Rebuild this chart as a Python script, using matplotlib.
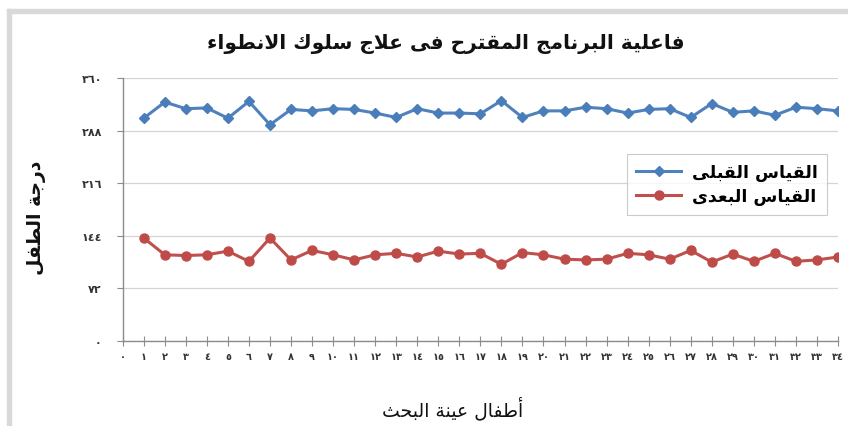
import matplotlib
matplotlib.use("Agg")
import matplotlib.pyplot as plt
from matplotlib.patches import Rectangle

# ---- data -------------------------------------------------------------
children = list(range(1, 35))
pre_scores = [305, 327, 318, 319, 305, 328, 296, 317, 315, 318, 317, 312,
              306, 318, 312, 312, 311, 329, 306, 315, 315, 320, 318, 312,
              317, 318, 306, 325, 313, 315, 309, 320, 318, 315]
post_scores = [141, 118, 117, 118, 123, 109, 141, 111, 124, 118, 111, 118,
               120, 115, 123, 119, 120, 105, 121, 118, 112, 111, 112, 120,
               118, 112, 124, 108, 119, 109, 120, 109, 111, 115]
y_ticks = [0, 72, 144, 216, 288, 360]
x_ticks = list(range(0, 35))

title_text = "فاعلية البرنامج المقترح فى علاج سلوك الانطواء"
ylabel_text = "درجة الطفل"
xlabel_text = "أطفال عينة البحث"
series_names = ["القياس القبلى", "القياس البعدى"]

# ---- minimal Arabic shaping (contextual forms + right-to-left order) ----
_FORMS = {
    "\u0621": ("\uFE80", None, None, None),
    "\u0623": ("\uFE83", "\uFE84", None, None),
    "\u0627": ("\uFE8D", "\uFE8E", None, None),
    "\u0628": ("\uFE8F", "\uFE90", "\uFE91", "\uFE92"),
    "\u0629": ("\uFE93", "\uFE94", None, None),
    "\u062A": ("\uFE95", "\uFE96", "\uFE97", "\uFE98"),
    "\u062B": ("\uFE99", "\uFE9A", "\uFE9B", "\uFE9C"),
    "\u062C": ("\uFE9D", "\uFE9E", "\uFE9F", "\uFEA0"),
    "\u062D": ("\uFEA1", "\uFEA2", "\uFEA3", "\uFEA4"),
    "\u062F": ("\uFEA9", "\uFEAA", None, None),
    "\u0631": ("\uFEAD", "\uFEAE", None, None),
    "\u0633": ("\uFEB1", "\uFEB2", "\uFEB3", "\uFEB4"),
    "\u0637": ("\uFEC1", "\uFEC2", "\uFEC3", "\uFEC4"),
    "\u0639": ("\uFEC9", "\uFECA", "\uFECB", "\uFECC"),
    "\u0641": ("\uFED1", "\uFED2", "\uFED3", "\uFED4"),
    "\u0642": ("\uFED5", "\uFED6", "\uFED7", "\uFED8"),
    "\u0643": ("\uFED9", "\uFEDA", "\uFEDB", "\uFEDC"),
    "\u0644": ("\uFEDD", "\uFEDE", "\uFEDF", "\uFEE0"),
    "\u0645": ("\uFEE1", "\uFEE2", "\uFEE3", "\uFEE4"),
    "\u0646": ("\uFEE5", "\uFEE6", "\uFEE7", "\uFEE8"),
    "\u0648": ("\uFEED", "\uFEEE", None, None),
    "\u0649": ("\uFEEF", "\uFEF0", None, None),
    "\u064A": ("\uFEF1", "\uFEF2", "\uFEF3", "\uFEF4"),
    "\u0644\u0627": ("\uFEFB", "\uFEFC", None, None),
    "\u0644\u0623": ("\uFEF7", "\uFEF8", None, None),
}


def _dual(u):
    return u in _FORMS and _FORMS[u][2] is not None


def _joins_prev(u):
    return u in _FORMS and _FORMS[u][1] is not None


def ar(text):
    units, i = [], 0
    while i < len(text):
        pair = text[i:i + 2]
        if pair in _FORMS:
            units.append(pair)
            i += 2
        else:
            units.append(text[i])
            i += 1
    out = []
    for k, u in enumerate(units):
        if u not in _FORMS:
            out.append(u)
            continue
        prev = k > 0 and _dual(units[k - 1]) and _joins_prev(u)
        nxt = k < len(units) - 1 and _dual(u) and _joins_prev(units[k + 1])
        f = _FORMS[u]
        if prev and nxt:
            out.append(f[3])
        elif prev:
            out.append(f[1])
        elif nxt:
            out.append(f[2])
        else:
            out.append(f[0])
    return "".join(out)[::-1]


_DIGITS = str.maketrans("0123456789", "٠١٢٣٤٥٦٧٨٩")


def ar_num(n):
    return str(n).translate(_DIGITS)


# ---- figure -------------------------------------------------------------
plt.rcParams["font.family"] = ["DejaVu Sans"]
W, H = 848, 427
fig = plt.figure(figsize=(W / 100, H / 100), dpi=100)

# light chart frame (top and left edges)
fig.patches.append(Rectangle((7 / W, 0), 4 / W, 1 - 10 / H, transform=fig.transFigure,
                             color="#d9d9d9", zorder=0))
fig.patches.append(Rectangle((7 / W, 1 - 14 / H), 1 - 7 / W, 4 / H, transform=fig.transFigure,
                             color="#d9d9d9", zorder=0))

left, right, top, bottom = 122.7, 838, 79, 342
ax = fig.add_axes([left / W, 1 - bottom / H, (right - left) / W, (bottom - top) / H])

blue_line, blue_mark = "#4F81BD", "#4A7EBB"
red_line, red_mark = "#C0504D", "#BE4B48"

ax.plot(children, pre_scores, color=blue_line, lw=2.2, marker="D", ms=5,
        mfc=blue_mark, mec=blue_mark, label=ar(series_names[0]), zorder=3)
ax.plot(children, post_scores, color=red_line, lw=2.2, marker="o", ms=6.5,
        mfc=red_mark, mec=red_mark, label=ar(series_names[1]), zorder=3)

ax.set_xlim(0, 34)
ax.set_ylim(0, 360)
ax.set_yticks(y_ticks)
ax.set_yticklabels([ar_num(v) for v in y_ticks], fontsize=8, fontweight="bold", color="#333333")
ax.set_xticks(x_ticks)
ax.set_xticklabels([ar_num(v) for v in x_ticks], fontsize=7, fontweight="bold", color="#333333")

ax.grid(axis="y", color="#d4d4d4", lw=0.9)
ax.set_axisbelow(True)
for s in ("top", "right"):
    ax.spines[s].set_visible(False)
for s in ("left", "bottom"):
    ax.spines[s].set_color("#8c8c8c")
    ax.spines[s].set_linewidth(1.0)
ax.tick_params(axis="y", direction="out", length=4, color="#8c8c8c", pad=11)
ax.tick_params(axis="x", direction="inout", length=7, color="#8c8c8c", pad=4)

fig.text(446 / W, 1 - 44 / H, ar(title_text), ha="center", va="center",
         fontsize=14.5, fontweight="bold", color="#111111")
fig.text(36 / W, 1 - 218 / H, ar(ylabel_text), ha="center", va="center",
         rotation=90, fontsize=13.5, fontweight="bold", color="#111111")
fig.text(453 / W, 1 - 409 / H, ar(xlabel_text), ha="center", va="center",
         fontsize=13.5, color="#111111")

leg = ax.legend(loc="upper right", bbox_to_anchor=(836 / W, 1 - 146 / H),
                bbox_transform=fig.transFigure, frameon=True, fancybox=False,
                prop={"size": 12.5, "weight": "bold"}, handlelength=2.6,
                borderpad=0.55, labelspacing=0.35, handletextpad=0.6)
leg.get_frame().set_edgecolor("#bfbfbf")
leg.get_frame().set_linewidth(0.8)

fig.savefig("out.png", dpi=100)
